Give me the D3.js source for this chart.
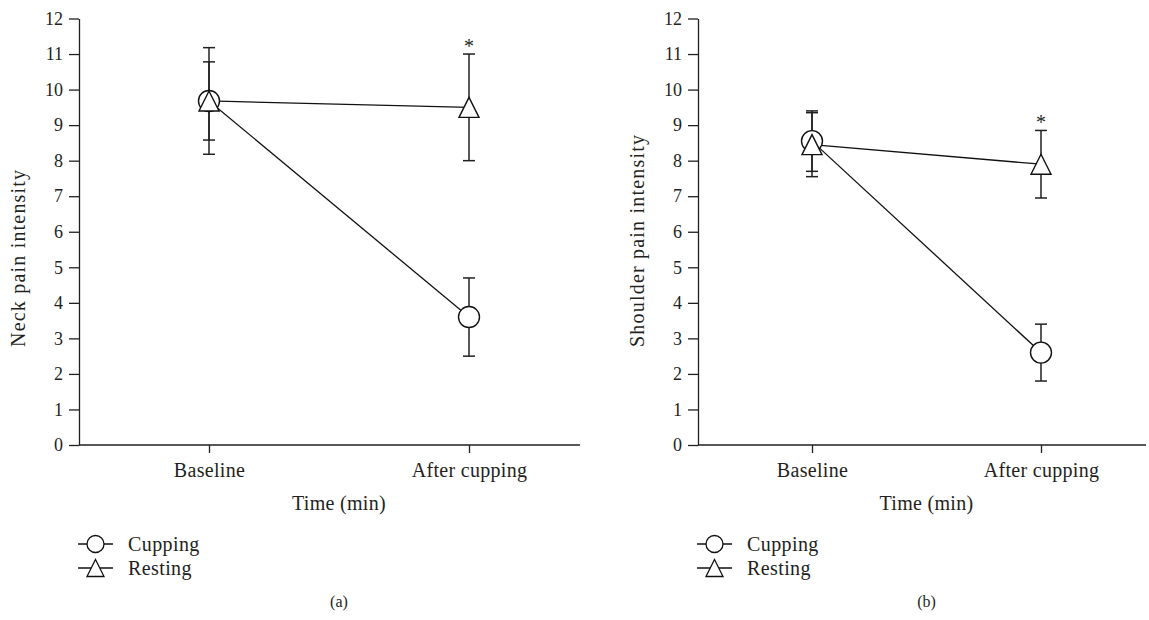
<!DOCTYPE html>
<html>
<head>
<meta charset="utf-8">
<script src="https://cdn.jsdelivr.net/npm/d3@7"></script>
<style>
  body { margin: 0; background: #fff; }
  text { font-family: "Liberation Serif", "DejaVu Serif", serif; fill: #231f20; }
</style>
</head>
<body>
<div id="chart-area"></div>
<script>
// data
var categories = ["Baseline", "After cupping"];
var yTicks = [0, 1, 2, 3, 4, 5, 6, 7, 8, 9, 10, 11, 12];

var neckCupping = [9.68, 3.6];
var neckCuppingErr = [1.1, 1.1];
var neckResting = [9.68, 9.5];
var neckRestingErr = [1.5, 1.5];

var shoulderCupping = [8.55, 2.6];
var shoulderCuppingErr = [0.85, 0.8];
var shoulderResting = [8.45, 7.9];
var shoulderRestingErr = [0.9, 0.95];

var seriesNames = ["Cupping", "Resting"];

var completeWidth = 1149,
	completeHeight = 620;

var svg = d3.select("#chart-area")
	.append("svg")
		.attr("width", completeWidth)
		.attr("height", completeHeight);

//= one panel per measure, positions
var panels = [
	{ title: "Neck pain intensity", tag: "(a)", axisX: 79, axisEnd: 580, catRange: [209, 469],
	  cup: neckCupping, cupErr: neckCuppingErr, rest: neckResting, restErr: neckRestingErr },
	{ title: "Shoulder pain intensity", tag: "(b)", axisX: 698, axisEnd: 1146, catRange: [812, 1041],
	  cup: shoulderCupping, cupErr: shoulderCuppingErr, rest: shoulderResting, restErr: shoulderRestingErr }
];

var y = d3.scaleLinear()
	.domain([0, 12])
	.range([445, 18.5]);

var triPath = function(s) {
	var h = s / 2;
	return "M0," + (-h) + "L" + h + "," + h + "L" + (-h) + "," + h + "Z";
};

panels.forEach(function(p) {
	var g = svg.append("g");

	var x = d3.scalePoint()
		.domain(categories)
		.range(p.catRange);
	var mid = (p.catRange[0] + p.catRange[1]) / 2;

	// y axis
	var yAxisCall = d3.axisLeft(y)
		.tickValues(yTicks)
		.tickSize(10)
		.tickSizeOuter(0)
		.tickPadding(6)
		.tickFormat(d3.format("d"));
	var ya = g.append("g")
		.attr("transform", "translate(" + p.axisX + ",0)")
		.call(yAxisCall);
	ya.selectAll("text").attr("font-size", "18px");

	// x axis
	var xAxisCall = d3.axisBottom(x)
		.tickSize(8)
		.tickSizeOuter(0)
		.tickPadding(10);
	var xa = g.append("g")
		.attr("transform", "translate(0," + y(0) + ")")
		.call(xAxisCall);
	xa.select(".domain").remove();
	xa.selectAll("text").attr("font-size", "20px").attr("letter-spacing", "0.3px");
	g.append("line")
		.attr("x1", p.axisX).attr("x2", p.axisEnd)
		.attr("y1", y(0)).attr("y2", y(0))
		.attr("stroke", "#231f20").attr("stroke-width", 1.3);

	g.selectAll(".domain, .tick line")
		.attr("stroke", "#231f20")
		.attr("stroke-width", 1.3);

	// Labels
	g.append("text")
		.attr("transform", "translate(" + (p.axisX - 54) + ",347) rotate(-90)")
		.attr("font-size", "20px")
		.attr("letter-spacing", "1.2px")
		.attr("text-anchor", "start")
		.text(p.title);
	g.append("text")
		.attr("x", mid)
		.attr("y", 510)
		.attr("font-size", "20px")
		.attr("letter-spacing", "0.3px")
		.attr("text-anchor", "middle")
		.text("Time (min)");
	g.append("text")
		.attr("x", mid)
		.attr("y", 607)
		.attr("font-size", "16px")
		.attr("text-anchor", "middle")
		.text(p.tag);

	var series = [
		{ name: "Cupping", vals: p.cup, err: p.cupErr },
		{ name: "Resting", vals: p.rest, err: p.restErr }
	];

	// connecting lines
	var line = d3.line()
		.x(function(d, i) { return x(categories[i]); })
		.y(function(d) { return y(d); });
	series.forEach(function(s) {
		g.append("path")
			.datum(s.vals)
			.attr("d", line)
			.attr("fill", "none")
			.attr("stroke", "#111")
			.attr("stroke-width", 1.3);
	});

	// error bars
	series.forEach(function(s) {
		s.vals.forEach(function(v, i) {
			var cx = x(categories[i]);
			var top = y(v + s.err[i]), bot = y(v - s.err[i]);
			g.append("line")
				.attr("x1", cx).attr("x2", cx)
				.attr("y1", top).attr("y2", bot)
				.attr("stroke", "#231f20").attr("stroke-width", 1.5);
			[top, bot].forEach(function(cy) {
				g.append("line")
					.attr("x1", cx - 6).attr("x2", cx + 6)
					.attr("y1", cy).attr("y2", cy)
					.attr("stroke", "#231f20").attr("stroke-width", 1.5);
			});
		});
	});

	// markers: circles for cupping, triangles for resting
	p.cup.forEach(function(v, i) {
		g.append("circle")
			.attr("cx", x(categories[i])).attr("cy", y(v))
			.attr("r", 10.5)
			.attr("fill", "#fff").attr("stroke", "#111").attr("stroke-width", 1.4);
	});
	p.rest.forEach(function(v, i) {
		g.append("path")
			.attr("d", triPath(20))
			.attr("transform", "translate(" + x(categories[i]) + "," + y(v) + ")")
			.attr("fill", "#fff").attr("stroke", "#111").attr("stroke-width", 1.4);
	});

	// significance mark above resting after cupping
	g.append("text")
		.attr("x", x(categories[1]))
		.attr("y", y(p.rest[1] + p.restErr[1]) - 1)
		.attr("font-size", "20px")
		.attr("text-anchor", "middle")
		.text("*");

	// legend
	var lx = p.axisX - 1;
	seriesNames.forEach(function(name, i) {
		var ly = 544 + i * 24;
		var lg = g.append("g").attr("transform", "translate(" + lx + "," + ly + ")");
		lg.append("line")
			.attr("x1", 0).attr("x2", 35)
			.attr("stroke", "#111").attr("stroke-width", 1.3);
		if (name === "Cupping") {
			lg.append("circle").attr("cx", 17.5).attr("r", 8.5)
				.attr("fill", "#fff").attr("stroke", "#111").attr("stroke-width", 1.3);
		} else {
			lg.append("path").attr("d", triPath(17))
				.attr("transform", "translate(17.5,0)")
				.attr("fill", "#fff").attr("stroke", "#111").attr("stroke-width", 1.3);
		}
		lg.append("text")
			.attr("x", 50).attr("y", 6.5)
			.attr("font-size", "20px")
			.attr("letter-spacing", "0.4px")
			.text(name);
	});
});
</script>
</body>
</html>
